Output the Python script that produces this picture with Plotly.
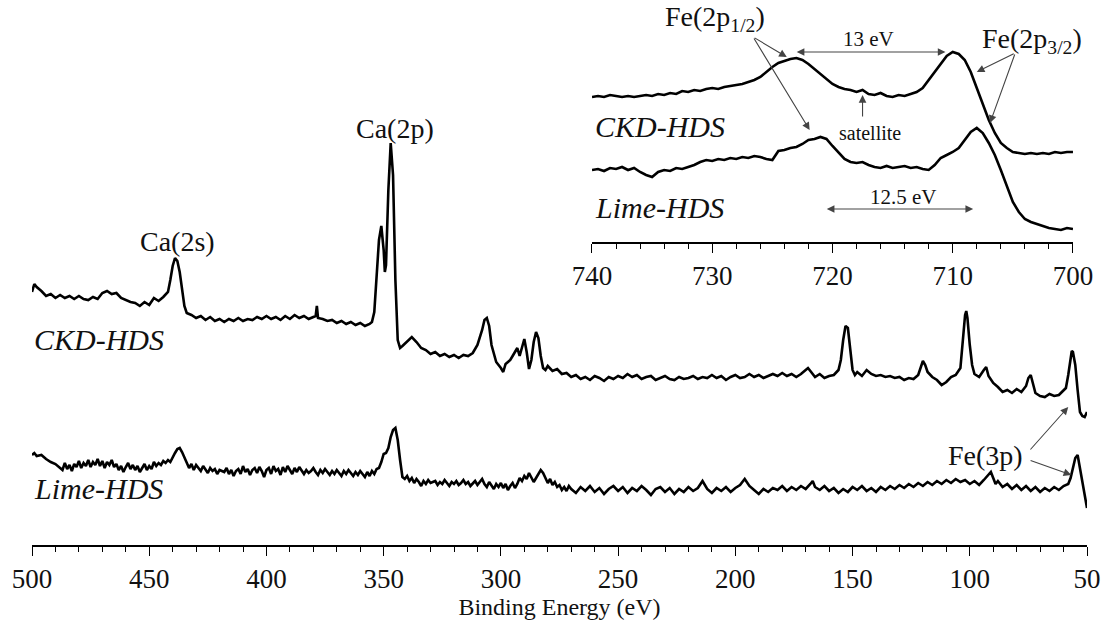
import plotly.graph_objects as go

# ---------------- main survey spectrum (Binding energy, eV) ----------------
ckd_energy = [500, 499, 498, 496, 494, 492, 490, 488, 486, 484, 482, 480, 478, 476, 474, 472, 470, 468, 466, 464,
              462, 460, 458, 456, 454, 452, 450, 448, 446, 444, 442, 441, 440, 439, 438, 437, 436, 435, 434, 432,
              430, 428, 426, 424, 422, 420, 418, 416, 414, 412, 410, 408, 406, 404, 402, 400, 398, 396, 394, 392,
              390, 388, 386, 384, 382, 380, 379, 378.5, 378, 376, 374, 372, 370, 368, 366, 364, 362, 360, 358, 356,
              355, 354, 353, 352, 351, 350, 349.5, 349, 348, 347, 346, 345, 344, 343, 342, 340, 338, 336, 334, 332,
              330, 328, 326, 324, 322, 320, 318, 316, 314, 312, 310, 308, 307, 306, 305, 304, 302, 300, 299, 298,
              296, 295, 294, 293, 292, 291, 290, 289, 288, 287, 286, 285, 284, 283, 282, 281, 280, 278, 276, 274,
              272, 270, 268, 266, 264, 262, 260, 258, 256, 254, 252, 250, 248, 246, 244, 242, 240, 238, 236, 234,
              232, 230, 228, 226, 224, 222, 220, 218, 216, 214, 212, 210, 208, 206, 204, 202, 200, 198, 196, 194,
              192, 190, 188, 186, 184, 182, 180, 178, 176, 174, 172, 170, 169, 168, 166, 164, 162, 160, 158, 156,
              155, 154, 153, 152, 151, 150, 149, 148, 146, 144, 142, 140, 138, 136, 134, 132, 130, 128, 126, 124,
              122, 121, 120, 119, 118, 116, 114, 112, 110, 108, 106, 104, 103, 102, 101.5, 101, 100, 99, 98, 96,
              94, 93, 92, 90, 88, 86, 84, 82, 80, 78, 76, 75, 74, 73, 72, 70, 68, 66, 64, 62,
              60, 59, 58, 57, 56.5, 56, 55, 54, 53, 52, 51, 50]
ckd_counts = [253, 261, 258, 254, 249, 251, 247, 250, 247, 249, 246, 249, 246, 245, 248, 246, 252, 254, 251, 252,
              247, 245, 243, 242, 239, 243, 240, 247, 244, 248, 253, 265, 279, 287, 284, 273, 255, 239, 232, 230,
              227, 229, 225, 228, 224, 226, 223, 226, 224, 227, 224, 226, 225, 228, 226, 229, 226, 228, 225, 229,
              226, 230, 227, 229, 226, 228, 229, 239, 227, 226, 224, 225, 222, 224, 221, 223, 220, 222, 219, 221,
              223, 233, 265, 305, 319, 295, 273, 280, 355, 402, 370, 265, 205, 197, 199, 204, 208, 203, 197, 195,
              191, 193, 189, 191, 188, 190, 187, 190, 189, 192, 200, 215, 225, 227, 219, 200, 183, 177, 173, 181,
              185, 189, 193, 197, 189, 199, 206, 193, 176, 185, 203, 213, 207, 189, 177, 175, 179, 174, 176, 171,
              172, 168, 170, 166, 168, 165, 169, 167, 164, 168, 166, 169, 167, 171, 168, 170, 166, 168, 169, 165,
              167, 169, 166, 165, 168, 166, 167, 169, 166, 168, 167, 170, 167, 169, 165, 168, 170, 167, 168, 171,
              168, 170, 167, 169, 171, 169, 172, 169, 171, 168, 171, 175, 177, 174, 168, 171, 167, 169, 170, 175,
              185, 205, 219, 217, 195, 175, 170, 173, 169, 175, 171, 169, 170, 168, 169, 167, 168, 165, 167, 166,
              170, 177, 184, 180, 173, 168, 165, 160, 163, 168, 170, 177, 200, 230, 234, 227, 200, 180, 171, 168,
              175, 178, 169, 162, 158, 153, 155, 152, 156, 153, 159, 167, 170, 161, 152, 149, 148, 151, 149, 150,
              155, 157, 170, 189, 194, 193, 180, 155, 133, 129, 128, 133]

lime_energy = [500, 499, 498, 496, 494, 492, 490, 488, 487, 486, 485, 484, 483, 482, 481, 480, 479, 478, 477, 476,
               475, 474, 473, 472, 471, 470, 469, 468, 467, 466, 465, 464, 463, 462, 461, 460, 459, 458, 457, 456,
               455, 454, 453, 452, 451, 450, 449, 448, 447, 446, 445, 444, 443, 442, 441, 440, 439, 438, 437, 436,
               435, 434, 433, 432, 431, 430, 429, 428, 427, 426, 425, 424, 423, 422, 421, 420, 418, 417, 416, 415,
               414, 413, 412, 411, 410, 409, 408, 407, 406, 405, 404, 403, 402, 401, 400, 399, 398, 397, 396, 395,
               394, 393, 392, 391, 390, 389, 388, 387, 386, 385, 384, 383, 382, 381, 380, 379, 378, 377, 376, 375,
               374, 373, 372, 371, 370, 369, 368, 367, 366, 365, 364, 363, 362, 361, 360, 359, 358, 357, 356, 355,
               354, 353, 352, 351, 350, 349, 348, 347, 346, 345, 344, 343, 342, 341, 340, 339, 338, 337, 336, 335,
               334, 333, 332, 331, 330, 328, 327, 326, 325, 324, 323, 322, 321, 320, 319, 318, 317, 316, 315, 314,
               313, 312, 311, 310, 309, 308, 307, 306, 305, 304, 303, 302, 301, 300, 299, 298, 297, 296, 295, 294,
               293, 292, 291, 290, 289, 288, 287, 286, 285, 284, 283, 282, 281, 280, 279, 278, 277, 276, 275, 274,
               273, 272, 271, 270, 268, 266, 264, 262, 260, 258, 256, 254, 252, 250, 248, 246, 244, 242, 240, 238,
               236, 234, 232, 230, 228, 226, 224, 222, 220, 218, 216, 214, 212, 210, 208, 206, 204, 202, 200, 198,
               196, 194, 192, 190, 188, 186, 184, 182, 180, 178, 176, 174, 172, 170, 168, 167, 166, 164, 162, 160,
               158, 156, 154, 152, 150, 148, 146, 144, 142, 140, 138, 136, 134, 132, 130, 128, 126, 124, 122, 120,
               118, 116, 114, 112, 110, 108, 106, 104, 102, 100, 98, 96, 94, 92, 91, 90, 89, 88, 86, 84,
               82, 80, 78, 76, 74, 72, 70, 68, 66, 64, 62, 60, 58, 57, 56, 55, 54, 53, 52, 51, 50]
lime_counts = [90, 92, 89, 90, 86, 83, 81, 77, 75, 82, 76, 80, 74, 81, 78, 84, 77, 82, 79, 85,
               78, 83, 80, 86, 79, 84, 77, 83, 80, 85, 78, 81, 75, 79, 73, 78, 82, 76, 80, 75,
               79, 73, 77, 81, 75, 79, 76, 83, 79, 82, 80, 84, 82, 85, 83, 88, 92, 96, 97, 93,
               87, 82, 77, 81, 75, 80, 77, 74, 79, 76, 72, 77, 74, 76, 71, 75, 73, 77, 71, 75,
               69, 74, 76, 71, 79, 73, 76, 70, 75, 77, 72, 78, 74, 68, 75, 77, 71, 79, 74, 76,
               70, 78, 73, 79, 75, 71, 77, 73, 78, 74, 71, 75, 72, 74, 77, 73, 70, 75, 72, 76,
               73, 70, 74, 71, 75, 72, 69, 74, 71, 75, 72, 69, 73, 70, 74, 71, 68, 73, 69, 74,
               71, 76, 77, 83, 91, 92, 97, 108, 115, 117, 105, 85, 68, 66, 69, 64, 67, 62, 66, 63,
               59, 64, 61, 65, 62, 64, 60, 63, 61, 65, 62, 59, 63, 61, 64, 60, 62, 65, 61, 63,
               59, 62, 64, 60, 63, 66, 61, 58, 63, 60, 56, 61, 58, 62, 57, 61, 55, 59, 62, 57,
               61, 67, 64, 69, 66, 72, 68, 63, 67, 71, 75, 72, 67, 62, 66, 60, 63, 58, 60, 55,
               58, 54, 59, 56, 52, 58, 54, 59, 53, 57, 51, 56, 59, 54, 58, 52, 57, 54, 59, 55,
               50, 56, 58, 53, 57, 51, 56, 53, 58, 54, 57, 64, 56, 52, 57, 54, 58, 53, 57, 60,
               66, 59, 55, 51, 56, 53, 57, 55, 59, 54, 58, 55, 59, 56, 61, 64, 58, 55, 59, 54,
               57, 52, 56, 53, 58, 55, 59, 54, 57, 53, 58, 55, 59, 56, 60, 57, 61, 58, 62, 59,
               63, 60, 64, 61, 65, 62, 66, 63, 65, 61, 64, 60, 65, 70, 73, 67, 61, 64, 58, 61,
               56, 60, 55, 59, 54, 58, 53, 57, 54, 58, 55, 59, 61, 67, 77, 87, 90, 77, 60, 47, 37]

# ---------------- Fe 2p inset (Binding energy, eV) ----------------
fe_energy = [740, 739.5, 739, 738.5, 738, 737.5, 737, 736.5, 736, 735.5, 735, 734.5, 734, 733.5, 733, 732.5, 732,
             731.5, 731, 730.5, 730, 729.5, 729, 728.5, 728, 727.5, 727, 726.5, 726, 725.5, 725, 724.5, 724,
             723.5, 723, 722.5, 722, 721.5, 721, 720.5, 720, 719.5, 719, 718.5, 718, 717.5, 717, 716.5, 716,
             715.5, 715, 714.5, 714, 713.5, 713, 712.5, 712, 711.5, 711, 710.5, 710, 709.5, 709, 708.5, 708,
             707.5, 707, 706.5, 706, 705.5, 705, 704.5, 704, 703.5, 703, 702.5, 702, 701.5, 701, 700.5, 700]
fe_ckd = [145, 146, 145, 147, 146, 145, 146, 145, 146, 147, 146, 148, 147, 149, 148, 151, 150,
          152, 151, 153, 154, 153, 155, 156, 157, 158, 160, 162, 165, 170, 175, 179, 181,
          183, 184, 182, 178, 173, 168, 163, 158, 155, 153, 152, 150, 152, 148, 147, 149,
          146, 145, 147, 146, 148, 150, 154, 162, 170, 179, 186, 190, 188, 182, 170, 154,
          138, 122, 109, 99, 94, 90, 89, 88, 89, 88, 89, 88, 90, 89, 90, 90]
fe_lime = [72, 73, 71, 74, 73, 75, 72, 74, 70, 67, 65, 70, 72, 71, 74, 73, 75,
           77, 80, 82, 81, 83, 82, 84, 83, 85, 84, 86, 85, 83, 82, 91, 92,
           94, 95, 98, 102, 103, 105, 103, 96, 89, 83, 80, 79, 80, 77, 75, 74,
           76, 74, 75, 76, 74, 75, 73, 72, 77, 84, 87, 90, 94, 102, 110, 114,
           109, 99, 87, 72, 56, 40, 30, 23, 20, 18, 16, 14, 13, 12, 14, 13]

main_ticks = [500, 450, 400, 350, 300, 250, 200, 150, 100, 50]
inset_ticks = [740, 730, 720, 710, 700]

SERIF = "Liberation Serif, Times New Roman, serif"
INK = "#111111"
ARROW = "#444444"

fig = go.Figure()
line_style = dict(color="black", width=2.6)
fig.add_trace(go.Scatter(x=ckd_energy, y=ckd_counts, mode="lines", line=line_style, xaxis="x", yaxis="y"))
fig.add_trace(go.Scatter(x=lime_energy, y=lime_counts, mode="lines", line=line_style, xaxis="x", yaxis="y"))
fig.add_trace(go.Scatter(x=fe_energy, y=fe_ckd, mode="lines", line=line_style, xaxis="x2", yaxis="y2"))
fig.add_trace(go.Scatter(x=fe_energy, y=fe_lime, mode="lines", line=line_style, xaxis="x2", yaxis="y2"))

axis_common = dict(showline=True, linecolor="black", linewidth=1.5, ticks="outside", tickcolor="black",
                   tickwidth=1.3, showgrid=False, zeroline=False,
                   tickfont=dict(family=SERIF, size=27, color=INK))

fig.update_layout(
    width=1107, height=632,
    margin=dict(l=32, r=20, t=0, b=87),
    paper_bgcolor="white", plot_bgcolor="white",
    showlegend=False,
    xaxis=dict(range=[500, 50], tickvals=main_ticks, ticklen=9,
               minor=dict(dtick=10, ticklen=5, ticks="outside", tickcolor="black", tickwidth=1.3),
               title=dict(text="Binding Energy (eV)", font=dict(family=SERIF, size=24, color=INK), standoff=2),
               anchor="y", **axis_common),
    yaxis=dict(range=[0, 545], visible=False, fixedrange=True),
    xaxis2=dict(domain=[0.5308, 0.9867], range=[740, 700], tickvals=inset_ticks, ticklen=9,
                minor=dict(dtick=2, ticklen=5, ticks="outside", tickcolor="black", tickwidth=1.3),
                anchor="y2", **axis_common),
    yaxis2=dict(domain=[0.556, 1.0], range=[0, 242], visible=False, anchor="x2"),
)

def label(text, x, y, xref="x", yref="y", size=28, italic=False, xanchor="center"):
    fig.add_annotation(text=f"<i>{text}</i>" if italic else text, x=x, y=y, xref=xref, yref=yref,
                       showarrow=False, xanchor=xanchor, yanchor="middle",
                       font=dict(family=SERIF, size=size, color=INK))

def arrow(x0, y0, x1, y1, xref="x", yref="y", both=False):
    fig.add_annotation(x=x1, y=y1, ax=x0, ay=y0, xref=xref, yref=yref, axref=xref, ayref=yref,
                       text="", showarrow=True, arrowhead=2, arrowsize=1.4, arrowwidth=1.1,
                       arrowcolor=ARROW, arrowside="end+start" if both else "end")

# main panel labels
label("Ca(2s)", 438.1, 304)
label("Ca(2p)", 345.3, 417)
label("CKD-HDS", 499.8, 206, italic=True, xanchor="left", size=30)
label("Lime-HDS", 499.8, 57, italic=True, xanchor="left", size=30)
label("Fe(3p)", 93.4, 90)
arrow(74.7, 94, 58.0, 138)
arrow(74.7, 85, 56.7, 70)

# inset labels
label("Fe(2p<sub>1/2</sub>)", 729.8, 224, "x2", "y2")
arrow(726.6, 205, 723.8, 185, "x2", "y2")
arrow(726.6, 205, 721.9, 112, "x2", "y2")
label("13 eV", 717.0, 203, "x2", "y2", size=21)
arrow(723.1, 190, 710.6, 190, "x2", "y2", both=True)
label("Fe(2p<sub>3/2</sub>)", 703.4, 202, "x2", "y2")
arrow(704.8, 189, 708.0, 170, "x2", "y2")
arrow(704.8, 189, 706.9, 119, "x2", "y2")
arrow(717.5, 124, 717.5, 147, "x2", "y2")
label("satellite", 716.9, 109, "x2", "y2", size=20)
label("CKD-HDS", 739.9, 115, "x2", "y2", italic=True, xanchor="left", size=30)
label("Lime-HDS", 739.9, 34, "x2", "y2", italic=True, xanchor="left", size=30)
label("12.5 eV", 714.1, 45, "x2", "y2", size=21)
arrow(720.6, 33, 708.3, 33, "x2", "y2", both=True)

fig.write_html("out.html")
